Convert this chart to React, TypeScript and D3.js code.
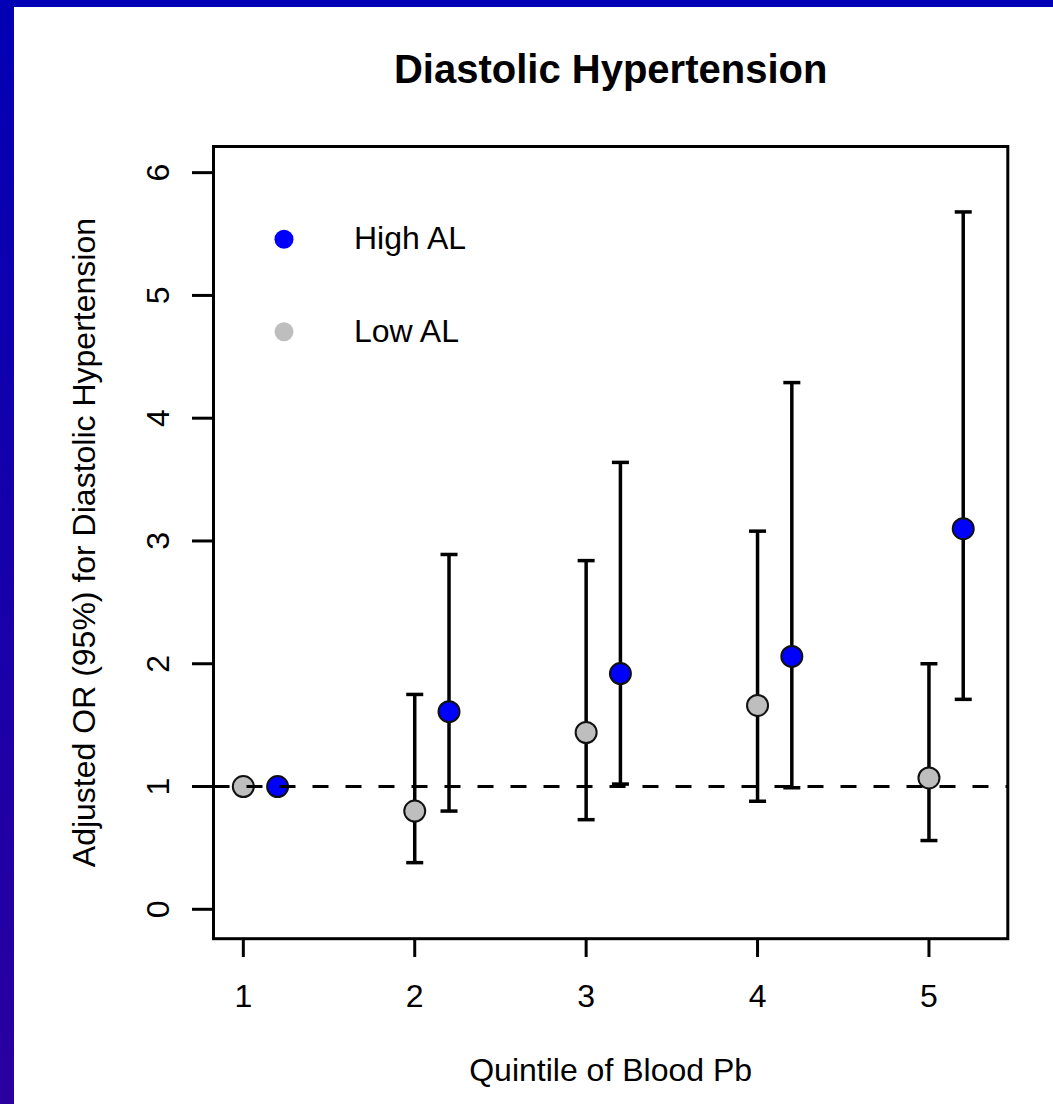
import React from "react";
import * as d3 from "d3";

const quintiles = [1, 2, 3, 4, 5];
const xTickLabels = ["1", "2", "3", "4", "5"];
const yTicks = [0, 1, 2, 3, 4, 5, 6];
const yTickLabels = ["0", "1", "2", "3", "4", "5", "6"];

const lowOR = [1.0, 0.8, 1.44, 1.66, 1.07];
const lowLower = [null, 0.38, 0.73, 0.88, 0.56];
const lowUpper = [null, 1.75, 2.84, 3.08, 2.0];

const highOR = [1.0, 1.61, 1.92, 2.06, 3.1];
const highLower = [null, 0.8, 1.02, 0.99, 1.71];
const highUpper = [null, 2.89, 3.64, 4.29, 5.68];

const highOffset = 0.2;
const refLine = 1;

const title = "Diastolic Hypertension";
const xLabel = "Quintile of Blood Pb";
const yLabel = "Adjusted OR (95%) for Diastolic Hypertension";
const legendItems = [
  { label: "High AL", color: "#0000FF" },
  { label: "Low AL", color: "#BEBEBE" },
];

const W = 1053;
const H = 1104;
const FONT = "'Liberation Sans', Arial, Helvetica, sans-serif";

export default function App() {
  const x = d3.scaleLinear().domain([0.826, 5.46]).range([213.5, 1007.8]);
  const y = d3.scaleLinear().domain([-0.2395, 6.213]).range([938.7, 146.5]);
  const [x0, x1] = x.range();
  const [yb, yt] = y.range();

  const series = [
    { off: 0, or: lowOR, lo: lowLower, hi: lowUpper, fill: "#BEBEBE" },
    { off: highOffset, or: highOR, lo: highLower, hi: highUpper, fill: "#0000FF" },
  ];
  const capHalf = 8.5;

  return (
    <div style={{ position: "absolute", left: 0, top: 0, width: W, height: H, background: "#fff" }}>
      <svg width={W} height={H} style={{ display: "block" }}>
        <defs>
          <linearGradient id="leftBar" x1="0" y1="0" x2="0" y2="1">
            <stop offset="0" stopColor="#0200B4" />
            <stop offset="1" stopColor="#2A00A0" />
          </linearGradient>
        </defs>
        <rect x={0} y={0} width={W} height={H} fill="#fff" />
        <rect x={0} y={0} width={W} height={7} fill="#0000B4" />
        <rect x={0} y={0} width={14} height={H} fill="url(#leftBar)" />

        <text x={(x0 + x1) / 2} y={83} textAnchor="middle" fontFamily={FONT} fontWeight="bold" fontSize={40} fill="#000">
          {title}
        </text>

        {/* error bars */}
        {series.map((s, si) =>
          quintiles.map((q, i) => {
            const lo = s.lo[i];
            const hi = s.hi[i];
            if (lo == null || hi == null) return null;
            const cx = x(q + s.off);
            return (
              <g key={`e${si}-${i}`} stroke="#000" strokeWidth={3.5}>
                <line x1={cx} x2={cx} y1={y(lo)} y2={y(hi)} />
                <line x1={cx - capHalf} x2={cx + capHalf} y1={y(lo)} y2={y(lo)} />
                <line x1={cx - capHalf} x2={cx + capHalf} y1={y(hi)} y2={y(hi)} />
              </g>
            );
          })
        )}

        {/* points */}
        {series.map((s, si) =>
          quintiles.map((q, i) => (
            <circle
              key={`p${si}-${i}`}
              cx={x(q + s.off)}
              cy={y(s.or[i])}
              r={10.5}
              fill={s.fill}
              stroke="#111"
              strokeWidth={2}
            />
          ))
        )}

        {/* reference line */}
        <line x1={x0} x2={x1} y1={y(refLine)} y2={y(refLine)} stroke="#000" strokeWidth={3} strokeDasharray="16,17" />

        {/* box */}
        <rect x={x0} y={yt} width={x1 - x0} height={yb - yt} fill="none" stroke="#000" strokeWidth={3} />

        {/* y axis */}
        {yTicks.map((t, i) => (
          <g key={`yt${i}`}>
            <line x1={192} x2={x0} y1={y(t)} y2={y(t)} stroke="#000" strokeWidth={3} />
            <text
              transform={`translate(${169},${y(t)}) rotate(-90)`}
              textAnchor="middle"
              fontFamily={FONT}
              fontSize={32}
              fill="#000"
            >
              {yTickLabels[i]}
            </text>
          </g>
        ))}

        {/* x axis */}
        {quintiles.map((q, i) => (
          <g key={`xt${i}`}>
            <line x1={x(q)} x2={x(q)} y1={yb} y2={957} stroke="#000" strokeWidth={3} />
            <text x={x(q)} y={1007} textAnchor="middle" fontFamily={FONT} fontSize={32} fill="#000">
              {xTickLabels[i]}
            </text>
          </g>
        ))}

        <text x={(x0 + x1) / 2} y={1081} textAnchor="middle" fontFamily={FONT} fontSize={32} fill="#000">
          {xLabel}
        </text>
        <text
          transform={`translate(${95},${(yb + yt) / 2}) rotate(-90)`}
          textAnchor="middle"
          fontFamily={FONT}
          fontSize={32}
          fill="#000"
        >
          {yLabel}
        </text>

        {/* legend */}
        {legendItems.map((it, i) => (
          <g key={`lg${i}`}>
            <circle cx={284} cy={239.3 + i * 92.4} r={9.5} fill={it.color} />
            <text x={354} y={249.3 + i * 92.4} fontFamily={FONT} fontSize={32} fill="#000">
              {it.label}
            </text>
          </g>
        ))}
      </svg>
    </div>
  );
}
